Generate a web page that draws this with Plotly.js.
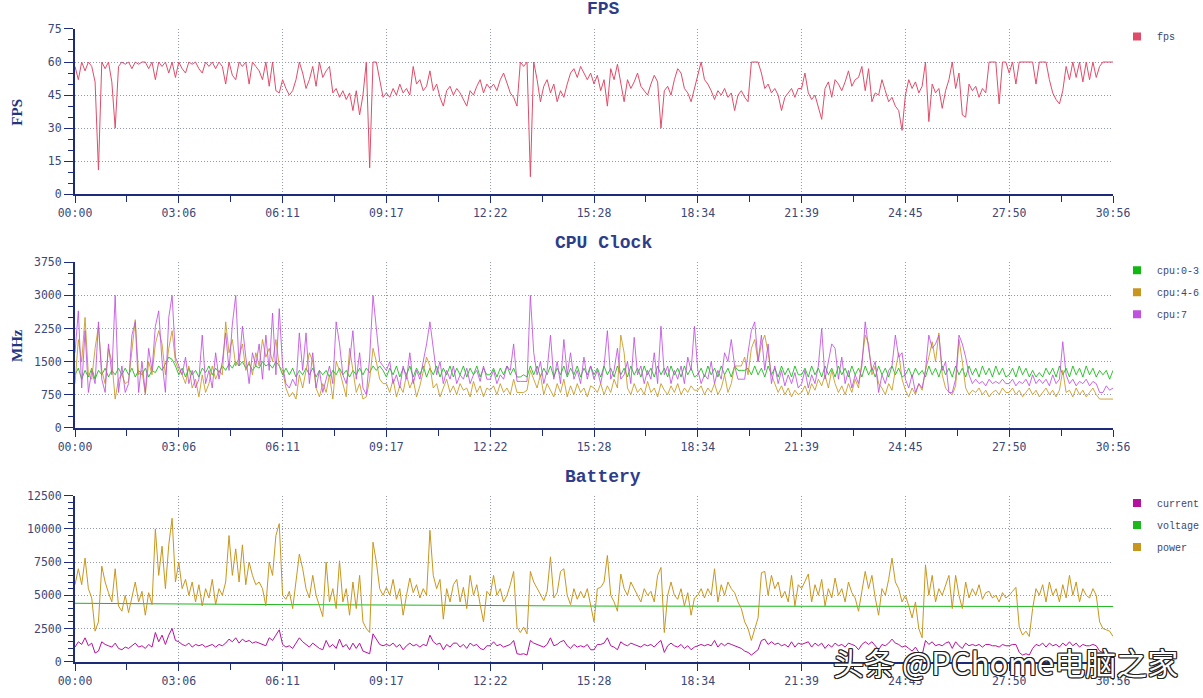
<!DOCTYPE html>
<html>
<head>
<meta charset="utf-8">
<script src="https://cdn.plot.ly/plotly-3.0.1.min.js"></script>
<style>
  html, body { margin: 0; padding: 0; background: #ffffff; }
  #chart { width: 1203px; height: 698px; }
</style>
</head>
<body>
<div id="chart"></div>
<script>
// ---------- data ----------
const DURATION_SECONDS = 1856; // 30:56
const TICK_SECONDS = [0, 185.6, 371.2, 556.8, 742.4, 928, 1113.6, 1299.2, 1484.8, 1670.4, 1856];
const TICK_LABELS = ["00:00", "03:06", "06:11", "09:17", "12:22", "15:28", "18:34", "21:39", "24:45", "27:50", "30:56"];

// FPS, evenly sampled over the run
const FPS_VALUES = [
  58,52,60,56,60,58,51,11,60,57,60,51,30,58,60,59,60,57,60,59,60,60,57,60,52,60,58,60,55,60,53,
  60,57,55,60,59,60,57,55,60,58,60,57,60,58,50,60,54,52,60,58,60,50,60,58,56,52,60,49,60,47,46,
  52,48,45,47,52,60,55,48,52,58,49,60,53,56,58,46,48,44,47,43,46,38,47,36,45,60,12,60,60,52,44,
  46,44,48,45,50,46,48,45,58,50,52,47,49,56,47,50,44,40,47,49,45,48,46,43,40,47,45,49,52,46,50,
  48,50,47,52,55,50,46,44,40,60,58,60,8,60,52,42,49,52,46,50,42,47,44,50,55,57,53,58,55,52,55,
  50,54,47,52,40,57,52,59,50,42,52,48,51,55,49,47,45,50,54,51,30,47,49,45,52,57,55,48,46,42,48,
  55,60,52,50,47,43,47,45,48,44,46,38,45,47,44,42,60,60,60,55,48,50,46,48,45,38,44,46,48,44,48,
  48,55,46,43,45,40,34,48,51,44,52,50,47,51,56,49,52,53,58,47,57,42,46,45,52,47,42,44,40,38,29,
  45,52,48,51,46,49,60,33,50,46,48,39,47,52,60,48,55,36,35,50,47,49,44,48,46,60,60,60,41,60,60,
  55,60,50,60,60,60,60,60,50,60,60,60,52,46,43,41,47,58,52,60,53,60,51,60,52,60,53,58,60,60,60,60
];

// CPU clock (MHz)
const CPU_0_3 = [
  1200,1350,1100,1300,1150,1350,1100,1300,1200,1350,1150,1300,1200,1350,1200,1350,1200,1350,1150,1300,1200,1350,1150,1300,1250,1400,1300,1450,1600,1550,1400,
  1200,1350,1150,1350,1200,1300,1150,1350,1250,1400,1200,1350,1250,1400,1300,1450,1350,1500,1400,1500,1350,1450,1300,1400,1350,1500,1400,1450,1350,1500,1400,
  1200,1350,1200,1350,1150,1300,1200,1350,1200,1350,1150,1300,1200,1300,1150,1300,1200,1350,1200,1300,1150,1300,1200,1350,1200,1350,1250,1400,1300,1400,1300,
  1150,1350,1200,1400,1150,1350,1200,1400,1150,1350,1200,1400,1150,1350,1200,1400,1150,1350,1200,1400,1150,1350,1200,1400,1150,1350,1200,1400,1150,1350,1200,
  1200,1350,1150,1350,1200,1400,1200,1350,1150,1150,1200,1150,1400,1200,1400,1150,1350,1200,1400,1150,1350,1200,1400,1150,1350,1200,1400,1150,1350,1200,1400,
  1200,1350,1150,1400,1200,1350,1150,1400,1200,1350,1150,1400,1200,1350,1150,1400,1200,1350,1150,1400,1200,1350,1150,1400,1200,1350,1150,1400,1200,1350,1150,
  1200,1350,1150,1400,1200,1350,1150,1400,1200,1350,1150,1400,1300,1300,1300,1350,1200,1400,1200,1350,1150,1400,1200,1350,1150,1400,1200,1350,1150,1400,1200,
  1200,1350,1150,1400,1200,1350,1150,1400,1200,1350,1150,1400,1200,1350,1150,1400,1200,1350,1150,1400,1200,1350,1150,1400,1200,1350,1150,1400,1200,1350,1150,
  1200,1350,1150,1350,1200,1300,1150,1400,1200,1350,1150,1400,1200,1350,1150,1400,1200,1350,1150,1400,1200,1350,1150,1400,1200,1350,1150,1400,1200,1350,1150,
  1200,1350,1150,1400,1200,1350,1150,1300,1150,1250,1150,1350,1200,1350,1150,1400,1200,1350,1150,1400,1200,1350,1150,1400,1200,1350,1150,1300,1200,1300,1100,1300
];
const CPU_4_6 = [
  1000,2000,1500,2500,1200,1100,1800,2300,1300,1000,1800,1500,650,1100,1200,1000,1050,1700,2450,1200,1300,750,1500,1200,1900,2200,1900,1200,1800,2200,1500,
  1300,1200,1000,1400,900,1100,700,1200,800,1000,1400,1100,1300,1200,2400,1700,2000,1400,1600,1900,1300,1500,1200,1700,1400,2000,1600,1800,1500,2000,1400,
  1300,900,700,800,650,1200,900,1300,1700,1500,900,700,1000,800,1200,650,1500,1300,1000,700,1800,1300,800,1000,650,700,1100,1800,1500,1100,1000,
  1000,800,1100,700,950,800,1200,900,1100,700,950,1300,1600,1400,900,1000,700,900,1100,800,950,750,1000,850,900,700,1050,800,950,700,900,
  850,950,750,1000,800,900,750,1100,800,800,800,850,1300,1100,900,1200,750,1000,850,700,1000,800,1100,700,950,750,1000,800,900,700,950,
  900,800,1000,750,950,800,1100,900,2100,1700,900,750,1000,800,900,750,1050,800,900,700,1000,850,750,950,800,1000,750,900,800,950,850,
  850,950,750,900,800,1000,750,900,1200,800,1000,1400,1400,1400,1600,1200,1800,2000,1500,1900,2100,1700,1200,1000,800,950,750,900,700,850,750,
  800,950,750,1000,850,1100,950,1200,900,1300,1000,800,950,750,1000,800,1100,900,1500,2100,1900,1200,1400,1000,900,750,1000,850,1300,1700,1100,
  850,700,900,750,1000,850,1300,1600,1950,1500,2150,1200,900,800,750,950,2000,1500,900,750,850,800,900,750,850,700,800,850,750,900,800,
  800,900,750,850,700,800,900,750,850,700,800,900,750,850,700,850,1300,800,850,700,900,750,850,700,800,900,750,650,650,650,650,650
];
const CPU_7 = [
  1700,2650,900,2200,800,1300,1000,2400,1100,800,1900,1200,3000,800,1400,800,1000,2100,2400,800,1500,800,1800,1300,2300,2650,1500,800,2500,3000,1600,
  1400,1200,1600,1000,1300,900,1100,2100,1000,1300,900,1700,1100,1500,2150,1300,2350,3000,1400,2300,1600,1000,1700,1400,1900,1100,2100,1300,2600,1200,2700,
  1400,1000,900,1100,950,2150,1300,2150,1000,1700,900,1300,800,1100,1400,1000,2400,1900,1200,1000,1500,2200,1100,1700,900,750,1600,3000,2300,1500,1400,
  1300,1500,1000,1200,900,1400,1100,1700,1000,1300,1100,1500,1900,2400,1800,1200,1500,1000,1300,1100,1400,1000,1200,1100,1350,1000,1200,1300,1050,1400,1100,
  1100,1300,1000,1200,1100,1400,1300,1900,1050,1050,1050,1050,3000,1700,1200,1500,1000,1300,2100,1100,1500,1000,2000,1200,1700,1100,1300,1000,1600,1100,1400,
  1100,1300,1000,1400,2200,1100,1300,1800,1100,1200,1500,1000,2050,1200,1400,1000,1300,1100,1700,1000,2300,1200,1400,1000,1300,1100,1400,1000,1600,1300,2300,
  1300,1000,1200,1100,1500,1000,1300,1100,1700,1500,2000,1400,1100,1100,1100,1700,2200,2400,1500,2100,1300,1900,1000,1400,1000,1300,950,1200,1000,1250,900,
  1000,1300,900,1200,1000,1400,2250,1100,1500,1900,1800,1100,1600,1000,1300,900,1200,1000,1400,2400,1800,1300,1500,800,1200,1000,1300,1400,2100,1600,1700,
  1100,900,1200,800,1000,900,1300,2100,1800,1900,2100,1300,1500,800,800,1100,2100,1900,1600,1200,1000,1100,1000,1050,950,1100,1000,1050,1000,1100,1000,
  1000,1100,950,1050,1000,1100,950,1200,1000,1100,1000,1100,950,1200,1000,1100,1950,1200,1000,1100,950,1050,1000,1100,950,1050,1000,800,800,950,850,900
];

// Battery
const CURRENT = [
  1100,1500,1300,1800,1200,1400,650,800,1500,1300,1200,1100,1400,1000,900,1100,1000,1200,1400,1100,1200,1000,1300,1100,2200,1500,2000,1300,2000,2500,1600,
  1500,1300,1200,1400,1100,1300,1200,1300,1100,1200,1300,1100,1300,1200,1400,1700,1500,1800,1400,1700,1500,1600,1400,1500,1400,1300,1200,1800,1600,2000,2400,
  1300,1100,1200,1000,1400,1800,1500,1300,1100,1400,1200,1000,900,1600,1100,1300,1000,1700,1100,1300,900,1400,1000,1400,800,700,600,2100,1700,1300,1200,
  1300,1200,1400,1100,1300,900,1200,1400,1200,1300,1100,1300,1200,2000,1500,1300,1400,900,1300,1100,1400,1400,1100,1300,1000,1400,1200,1300,1000,900,1200,
  1200,1500,1200,1300,1100,1200,1300,1600,600,550,600,500,1600,1400,1300,1200,1100,1300,1800,1200,1300,1500,1600,1200,1000,1300,1100,1200,1100,1300,900,
  900,1300,1300,1400,1800,1200,1100,900,1500,1300,1200,1400,1300,1200,1100,1300,1200,1300,1100,1400,1600,700,1200,1400,1200,1100,1300,1000,1200,900,1100,
  1200,1300,1200,1300,1200,1600,1100,1400,1200,1400,1300,1200,1100,1000,800,700,500,700,900,1600,1700,1300,1500,1300,1400,1200,1300,1100,1500,1100,1400,
  1300,1400,1500,1100,1400,1200,1400,1000,1300,1100,1400,1200,1300,1100,1400,1300,1200,900,1300,1500,1300,1500,1200,900,1300,1200,1400,1700,1400,1300,1100,
  1200,1000,800,1100,700,500,1600,1300,1500,1200,1300,1200,1400,1500,1000,1500,1200,1000,1400,1200,1300,1200,1300,1100,1300,1300,1200,1200,1100,1300,1200,
  1200,1300,1300,700,500,600,500,1000,1300,1200,1400,1100,1400,1200,1300,1100,1400,1200,1500,1200,1400,1100,1300,1200,1200,1300,1200,800,700,700,650,600
];
const POWER = [
  5800,7000,5800,7800,5500,4800,2300,3000,7200,6000,5200,4500,7000,4200,3800,5000,3700,4800,6000,4500,5300,3500,5200,4300,10000,6500,8700,5500,8800,10800,6000,
  7500,5500,6200,5000,6000,4500,5800,4200,5500,4800,6200,4300,5500,5000,6000,9500,6500,8500,6000,8800,5800,7500,6500,5800,6000,5500,4200,7500,6500,9500,10400,
  5000,4700,5300,4000,6000,8100,7000,5500,4800,6500,5000,4200,3400,7500,4500,5500,4000,7600,4500,5500,3500,6000,4000,6500,3000,2500,2200,9000,7500,5500,5000,
  5600,5000,6200,4700,5500,3500,5000,6300,5200,5800,4800,5500,5000,9900,6500,5500,6200,3200,5500,4500,5800,6200,4500,5600,4000,6500,5000,5800,4300,3000,5300,
  5000,6500,5000,5500,4500,5000,5800,6800,2600,2200,2600,2100,6800,6000,5500,5000,4600,5300,7900,4800,5200,6800,7000,5000,4300,5500,4700,5300,4800,5500,4200,
  3000,5500,5600,6000,8000,5000,4500,3800,6600,5500,5000,6000,5500,5000,4500,5500,5000,5300,4500,6500,7100,2200,5000,6000,5000,4700,5500,4200,5200,3500,4800,
  5000,5500,4800,5500,5000,7000,4500,5800,5000,6000,5500,5200,4500,4000,3000,2500,1600,2500,3300,6700,6800,5000,6500,5500,6000,4800,5300,4500,6500,4200,5800,
  5500,6000,6600,4500,5800,5000,6200,4200,5500,4800,6300,5000,5500,4500,6000,5200,4800,3800,5300,6800,5500,6500,4800,3500,5500,5000,6200,7800,6000,5500,4500,
  5000,4200,3300,4500,2500,1800,7300,5000,6500,4500,5500,5000,5800,6500,4000,6500,5000,4000,6000,4800,5500,5000,5800,4700,5200,5300,4800,5000,4500,5200,4800,
  5000,5300,5600,2600,2000,2300,1900,4000,5500,5000,5800,4500,6000,5000,5500,4500,5800,4800,6500,5000,6000,4500,5500,5000,4800,5500,5000,3000,2500,2400,2300,1900
];
const VOLTAGE_SECONDS = [0, 185.6, 371.2, 556.8, 742.4, 928, 1113.6, 1299.2, 1484.8, 1670.4, 1856];
const VOLTAGE = [4400, 4330, 4300, 4270, 4220, 4190, 4180, 4175, 4170, 4165, 4160];

// ---------- styling ----------
const NAVY = "#1d2b7c";
const TICK_TEXT = "#3b4878";
const GRID = "#8f98b8";
const MONO = "DejaVu Sans Mono, monospace";
const COLORS = {
  fps: "#e04c68",
  c03: "#12b812",
  c46: "#c8961e",
  c7: "#c050e0",
  current: "#b5119f",
  voltage: "#1cb81c",
  power: "#c8961e"
};

function sampleTimes(values) {
  const n = values.length;
  return values.map((_, i) => i * DURATION_SECONDS / (n - 1));
}

function lineTrace(values, name, color, xa, ya, opacity) {
  return {
    type: "scatter", mode: "lines", name: name,
    x: sampleTimes(values), y: values,
    xaxis: xa, yaxis: ya,
    line: { color: color, width: 1 },
    opacity: opacity || 1,
    showlegend: false, hoverinfo: "skip"
  };
}
function legendEntry(name, color, legendId, xa, ya) {
  return {
    type: "scatter", mode: "markers", name: name,
    x: [null], y: [null], xaxis: xa, yaxis: ya,
    marker: { symbol: "square", size: 8, color: color },
    legend: legendId, legendgroup: legendId + name, showlegend: true, hoverinfo: "skip"
  };
}

const traces = [
  lineTrace(FPS_VALUES, "fps", COLORS.fps, "x", "y"),
  legendEntry("fps", COLORS.fps, "legend", "x", "y"),

  lineTrace(CPU_0_3, "cpu:0-3", COLORS.c03, "x2", "y2", 0.85),
  lineTrace(CPU_4_6, "cpu:4-6", COLORS.c46, "x2", "y2", 0.85),
  lineTrace(CPU_7, "cpu:7", COLORS.c7, "x2", "y2", 0.85),
  legendEntry("cpu:0-3", COLORS.c03, "legend2", "x2", "y2"),
  legendEntry("cpu:4-6", COLORS.c46, "legend2", "x2", "y2"),
  legendEntry("cpu:7", COLORS.c7, "legend2", "x2", "y2"),

  lineTrace(CURRENT, "current", COLORS.current, "x3", "y3"),
  { type: "scatter", mode: "lines", name: "voltage", x: VOLTAGE_SECONDS, y: VOLTAGE,
    xaxis: "x3", yaxis: "y3", line: { color: COLORS.voltage, width: 1 }, showlegend: false, hoverinfo: "skip" },
  lineTrace(POWER, "power", COLORS.power, "x3", "y3"),
  legendEntry("current", COLORS.current, "legend3", "x3", "y3"),
  legendEntry("voltage", COLORS.voltage, "legend3", "x3", "y3"),
  legendEntry("power", COLORS.power, "legend3", "x3", "y3")
];

function xAxis(anchor) {
  return {
    anchor: anchor, domain: [0, 1], range: [0, DURATION_SECONDS],
    tickmode: "array", tickvals: TICK_SECONDS, ticktext: TICK_LABELS,
    ticks: "outside", ticklen: 7, tickwidth: 1, tickcolor: NAVY,
    showline: true, linecolor: NAVY, linewidth: 2,
    showgrid: true, gridcolor: GRID, griddash: "1px,2px", gridwidth: 1,
    zeroline: false,
    minor: { tickmode: "linear", tick0: 0, dtick: 92.8, ticks: "outside", ticklen: 6, tickcolor: NAVY, showgrid: false },
    tickfont: { family: MONO, size: 11.5, color: TICK_TEXT },
    fixedrange: true
  };
}
function yAxis(anchor, domain, max, step, minorStep) {
  return {
    anchor: anchor, domain: domain, range: [0, max],
    tickmode: "linear", tick0: 0, dtick: step, tickformat: "d",
    ticks: "outside", ticklen: 9, tickwidth: 1, tickcolor: NAVY,
    showline: true, linecolor: NAVY, linewidth: 2,
    showgrid: true, gridcolor: GRID, griddash: "1px,2px", gridwidth: 1,
    zeroline: false,
    minor: { tickmode: "linear", tick0: 0, dtick: minorStep, ticks: "outside", ticklen: 5, tickcolor: NAVY, showgrid: false },
    tickfont: { family: MONO, size: 11.5, color: TICK_TEXT },
    fixedrange: true
  };
}

const legendBase = {
  xref: "container", xanchor: "left", yanchor: "top", x: 0.9285,
  bgcolor: "rgba(0,0,0,0)", borderwidth: 0,
  font: { family: "Liberation Mono, monospace", size: 10, color: "#3a4670" },
  traceorder: "grouped", tracegroupgap: 3, itemclick: false, itemdoubleclick: false
};

const titleFont = { family: "Liberation Mono, monospace", size: 18, color: "#2e3d8a", weight: "bold" };
const axisTitleFont = { family: "Liberation Serif, serif", size: 15, color: "#25347f", weight: "bold" };

const layout = {
  width: 1203, height: 698,
  margin: { l: 75, r: 90, t: 0, b: 0, autoexpand: false },
  paper_bgcolor: "#ffffff", plot_bgcolor: "#ffffff",
  showlegend: true,
  xaxis: xAxis("y"), xaxis2: xAxis("y2"), xaxis3: xAxis("y3"),
  yaxis: yAxis("x", [0.7216, 0.9585], 75, 15, 5),
  yaxis2: yAxis("x2", [0.3872, 0.6242], 3750, 750, 250),
  yaxis3: yAxis("x3", [0.0520, 0.2898], 12500, 2500, 500),
  legend: Object.assign({}, legendBase, { y: 0.9685 }),
  legend2: Object.assign({}, legendBase, { y: 0.6335 }),
  legend3: Object.assign({}, legendBase, { y: 0.3000 }),
  annotations: [
    { text: "FPS", xref: "paper", yref: "paper", x: 0.5087, y: 0.9864, showarrow: false, xanchor: "center", yanchor: "middle", font: titleFont },
    { text: "CPU Clock", xref: "paper", yref: "paper", x: 0.5087, y: 0.6519, showarrow: false, xanchor: "center", yanchor: "middle", font: titleFont },
    { text: "Battery", xref: "paper", yref: "paper", x: 0.5087, y: 0.3166, showarrow: false, xanchor: "center", yanchor: "middle", font: titleFont },
    { text: "FPS", xref: "paper", yref: "paper", x: -0.0559, y: 0.8400, textangle: -90, showarrow: false, xanchor: "center", yanchor: "middle", font: axisTitleFont },
    { text: "MHz", xref: "paper", yref: "paper", x: -0.0559, y: 0.5057, textangle: -90, showarrow: false, xanchor: "center", yanchor: "middle", font: axisTitleFont },
    { text: "头条 @PChome电脑之家", xref: "paper", yref: "paper", x: 0.896, y: 0.0516, showarrow: false, xanchor: "center", yanchor: "middle",
      font: { family: "Noto Sans CJK SC, sans-serif", size: 31, color: "#ffffff",
              shadow: "1px 1px 0 #222, -1px -1px 0 #222, 1px -1px 0 #222, -1px 1px 0 #222, 0 1px 0 #222, 0 -1px 0 #222, 1px 0 0 #222, -1px 0 0 #222" } }
  ]
};

Plotly.newPlot("chart", traces, layout, { displayModeBar: false, staticPlot: true, responsive: false });
</script>
</body>
</html>
